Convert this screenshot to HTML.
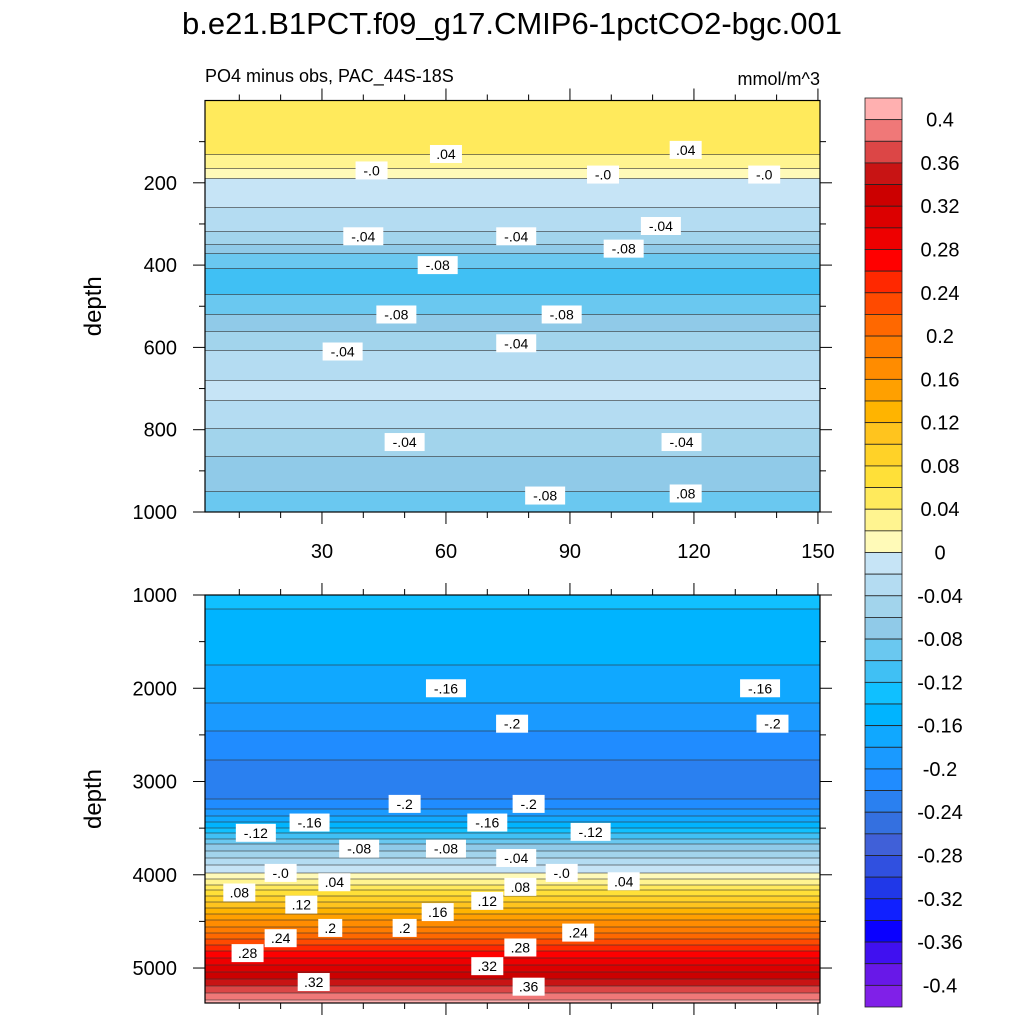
<!DOCTYPE html>
<html><head><meta charset="utf-8"><style>
body{margin:0;background:#fff;}
svg{display:block;font-family:"Liberation Sans",sans-serif;}
</style></head><body>
<svg id="c" width="1024" height="1024" viewBox="0 0 1024 1024">
<text x="512" y="34" font-size="31" text-anchor="middle">b.e21.B1PCT.f09_g17.CMIP6-1pctCO2-bgc.001</text>
<text x="205" y="82" font-size="18">PO4 minus obs, PAC_44S-18S</text>
<text x="820" y="85" font-size="18" text-anchor="end">mmol/m^3</text>
<g id="top"></g>
<g id="bot"></g>
<g id="cbar"></g>
</svg>
<script>
// colour levels (-0.4..0.4 step 0.02)
const levelMin=-0.4, levelStep=0.02, nLevels=41;
const colors=["#8020e8","#6818e8","#4010f0","#0a00ff","#1020ff","#2038e8","#3050e0","#4060d8","#3470e0","#2a80f0","#208cff","#1a9aff","#10a8ff","#00b4ff","#10c0ff","#40c0f4","#6ac8f0","#90cae8","#a2d4ec","#b4dcf2","#c6e4f6",
"#fffab8","#fff490","#ffea5c","#ffe038","#ffd228","#ffc41e","#ffb400","#ffa000","#ff8c00","#ff7c00","#ff6800","#ff4a00","#ff2800","#ff0000","#ee0000","#dc0000","#cc0000","#c81414","#dc4646","#f07878","#ffb0b0"];
const cbarLabels=["0.4","0.36","0.32","0.28","0.24","0.2","0.16","0.12","0.08","0.04","0","-0.04","-0.08","-0.12","-0.16","-0.2","-0.24","-0.28","-0.32","-0.36","-0.4"];
// top panel profile
const topDepths=[0,80,120,150,175,195,280,330,360,380,420,470,510,540,580,620,680,720,780,830,880,950,1000];
const topValues=[0.058,0.055,0.045,0.03,0.012,-0.005,-0.025,-0.045,-0.07,-0.09,-0.105,-0.1,-0.085,-0.07,-0.05,-0.035,-0.02,-0.018,-0.035,-0.05,-0.065,-0.08,-0.092];
const topLabels=["-.0",".04","-.0","-.0",".04","-.04","-.04","-.08","-.04","-.08","-.08","-.08","-.04","-.04","-.04","-.04","-.08",".08"];
const topLabelX=[42,60,98,137,118,40,77,58,112,103,48,88,35,77,50,117,84,118];
const topLabelY=[170,130,180,180,120,330,330,400,305,360,520,520,610,590,830,830,960,955];
// bottom panel profile
const botDepths=[1000,1300,1700,2000,2300,2600,2900,3100,3250,3400,3550,3700,3850,3980,4100,4250,4450,4650,4850,5000,5150,5300,5400];
const botValues=[-0.135,-0.145,-0.158,-0.17,-0.19,-0.21,-0.228,-0.232,-0.21,-0.17,-0.12,-0.07,-0.03,0,0.04,0.09,0.15,0.21,0.27,0.31,0.35,0.39,0.42];
const botLabels=["-.16","-.16","-.2","-.2","-.2","-.2","-.12","-.16","-.16","-.12","-.08","-.08","-.04","-.0","-.0",".04",".04",".08",".08",".12",".12",".16",".2",".2",".24",".24",".28",".28",".32",".32",".36"];
const botLabelX=[60,136,76,139,50,80,14,27,70,95,39,60,77,20,88,33,103,10,78,25,70,58,32,50,20,92,12,78,28,70,80];
const botLabelY=[2000,2000,2380,2380,3240,3240,3550,3440,3440,3540,3720,3720,3820,3980,3980,4080,4070,4190,4130,4320,4280,4400,4570,4570,4680,4620,4840,4780,5150,4980,5200];

const NS="http://www.w3.org/2000/svg";
function mk(tag,attrs,parent){const e=document.createElementNS(NS,tag);for(const k in attrs)e.setAttribute(k,attrs[k]);parent.appendChild(e);return e;}
function interp(ds,vs,d){if(d<=ds[0])return vs[0];for(let i=1;i<ds.length;i++){if(d<=ds[i]){const t=(d-ds[i-1])/(ds[i]-ds[i-1]);return vs[i-1]+t*(vs[i]-vs[i-1]);}}return vs[vs.length-1];}
function bin(v){let b=Math.floor((v-levelMin)/levelStep)+1;return Math.max(0,Math.min(colors.length-1,b));}

function panel(g,x0,x1,y0,y1,yr0,yr1,d0,d1,ds,vs,labs,lx,ly,yticks,ytlab,showX,minorY){
  const xs=v=>x0+(v-yr0)/(yr1-yr0)*(x1-x0);
  const ys=d=>y0+(d-d0)/(d1-d0)*(y1-y0);
  let start=y0,cur=bin(interp(ds,vs,d0));
  const lines=[];
  const band=(a,b,c)=>{const r=mk('rect',{x:x0,y:a,width:x1-x0,height:b-a,fill:colors[c]},g);
      
      };
  for(let y=y0+1;y<=y1;y++){
    const d=d0+(y-y0)/(y1-y0)*(d1-d0);
    const b=bin(interp(ds,vs,d));
    if(b!==cur){band(start,y,cur);lines.push(y);start=y;cur=b;}
  }
  band(start,y1,cur);
  lines.forEach(y=>{const l=mk('line',{x1:x0,x2:x1,y1:y,y2:y,stroke:'#333','stroke-width':0.8,'stroke-opacity':0.8},g);
    
    });
  labs.forEach((t,i)=>{
    const cx=xs(lx[i]),cy=ys(ly[i]);const w=t.length*8+8;
    const r=mk('rect',{x:cx-w/2,y:cy-9,width:w,height:18,fill:'#fff'},g);
    
    
    const tx=mk('text',{x:cx,y:cy+5,'font-size':14,'text-anchor':'middle'},g);tx.textContent=t;
    
    
  });
  const fr=mk('rect',{x:x0,y:y0,width:x1-x0,height:y1-y0,fill:'none',stroke:'#000','stroke-width':1.2},g);
  
  
  for(let v=10;v<=150;v+=10){const x=xs(v);const L=v%30===0?12:6;
    const a=mk('line',{x1:x,x2:x,y1:y0,y2:y0-L,stroke:'#000'},g);
    const b=mk('line',{x1:x,x2:x,y1:y1,y2:y1+L,stroke:'#000'},g);
    if(showX&&v%30===0){const t=mk('text',{x:x,y:y1+46,'font-size':20,'text-anchor':'middle'},g);t.textContent=String(v);
      }}
  for(let d=minorY[0];d<=d1;d+=minorY[1]){const y=ys(d);const maj=yticks.some(m=>Math.abs(m-d)<1e-6);const L=maj?12:6;
    const a=mk('line',{x1:x0,x2:x0-L,y1:y,y2:y,stroke:'#000'},g);
    const b=mk('line',{x1:x1,x2:x1+L,y1:y,y2:y,stroke:'#000'},g);}
  yticks.forEach((d,i)=>{const t=mk('text',{x:x0-28,y:ys(d)+7,'font-size':20,'text-anchor':'end'},g);t.textContent=ytlab[i];
    });
  const yt=mk('text',{x:0,y:0,'font-size':24,'text-anchor':'middle',transform:`translate(101,${(y0+y1)/2}) rotate(-90)`},g);yt.textContent='depth';
  
}
panel(document.getElementById('top'),205,820,100.5,512,1.7,150.5,0,1000,topDepths,topValues,topLabels,topLabelX,topLabelY,[200,400,600,800,1000],["200","400","600","800","1000"],true,[100,100]);
panel(document.getElementById('bot'),205,820,595,1003,1.7,150.5,1000,5375,botDepths,botValues,botLabels,botLabelX,botLabelY,[1000,2000,3000,4000,5000],["1000","2000","3000","4000","5000"],false,[1000,500]);

// colorbar
const cb=document.getElementById('cbar');
const cbTop=98,cbBot=1007,cbX=865,cbW=37,bh=(cbBot-cbTop)/colors.length;
for(let i=0;i<colors.length;i++){
  const r=mk('rect',{x:cbX,y:cbTop+i*bh,width:cbW,height:bh,fill:colors[colors.length-1-i],stroke:'#222','stroke-width':0.8},cb);
  
  
}
cbarLabels.forEach((t,i)=>{const y=cbTop+bh*(1+2*i);
  const tx=mk('text',{x:940,y:y+7,'font-size':20,'text-anchor':'middle'},cb);tx.textContent=t;
  
  });
</script>
</body></html>
